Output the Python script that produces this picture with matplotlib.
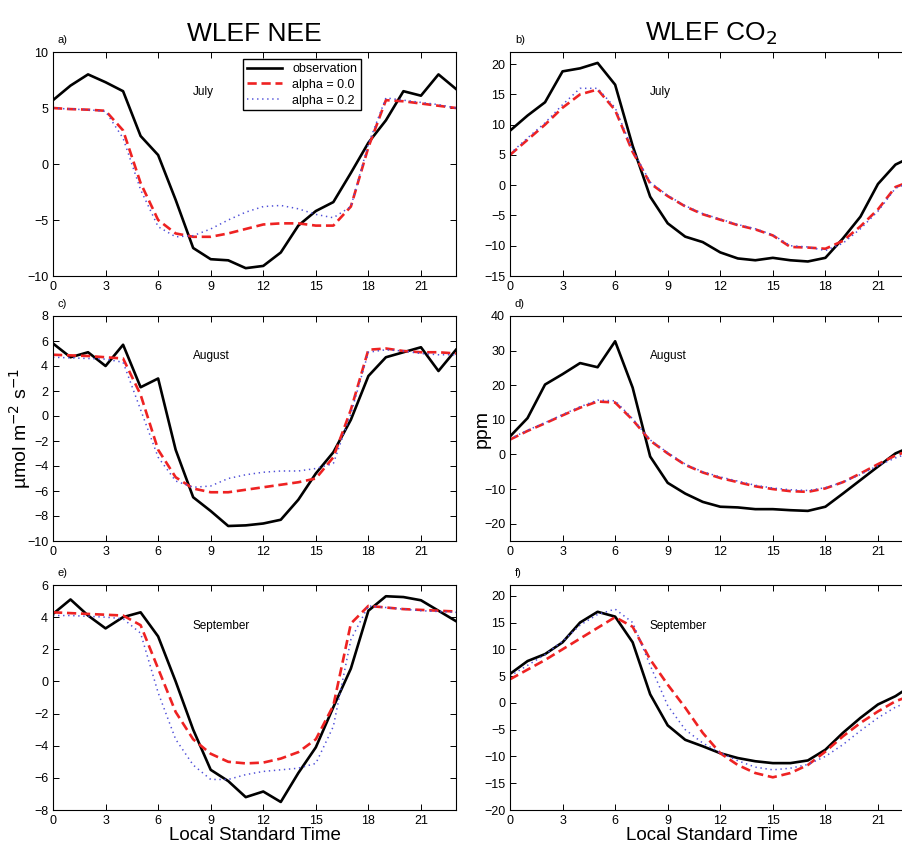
import matplotlib
matplotlib.use("Agg")
import matplotlib.pyplot as plt

plt.rcParams["font.family"] = ["Liberation Sans", "DejaVu Sans"]

hours = list(range(24))

# NEE (umol m-2 s-1)
jul_nee_obs = [5.7, 7.0, 8.0, 7.3, 6.5, 2.5, 0.8, -3.2, -7.5, -8.5, -8.6, -9.3,
               -9.1, -7.9, -5.5, -4.2, -3.4, -0.8, 1.9, 3.9, 6.5, 6.1, 8.0, 6.7]
jul_nee_a0 = [5.0, 4.9, 4.85, 4.75, 3.0, -1.7, -5.0, -6.2, -6.5, -6.5, -6.2, -5.8,
              -5.4, -5.3, -5.3, -5.5, -5.5, -3.8, 1.5, 5.7, 5.6, 5.4, 5.2, 5.0]
jul_nee_a2 = [5.0, 4.9, 4.85, 4.7, 2.3, -2.3, -5.6, -6.5, -6.4, -5.8, -5.0, -4.3,
              -3.8, -3.7, -4.0, -4.5, -4.8, -3.8, 1.8, 5.9, 5.7, 5.5, 5.3, 5.0]

aug_nee_obs = [5.8, 4.7, 5.1, 4.0, 5.7, 2.3, 3.0, -2.7, -6.5, -7.6, -8.8, -8.75,
               -8.6, -8.3, -6.7, -4.6, -2.9, -0.3, 3.2, 4.7, 5.1, 5.5, 3.6, 5.3]
aug_nee_a0 = [4.9, 4.85, 4.8, 4.7, 4.6, 1.7, -2.7, -4.9, -5.8, -6.1, -6.1, -5.9,
              -5.7, -5.5, -5.3, -5.0, -3.3, 0.5, 5.3, 5.4, 5.2, 5.1, 5.1, 5.0]
aug_nee_a2 = [4.7, 4.65, 4.6, 4.55, 4.3, 0.5, -3.3, -5.2, -5.7, -5.6, -5.0, -4.7,
              -4.5, -4.4, -4.4, -4.2, -3.8, 0.2, 5.1, 5.3, 5.2, 5.0, 4.9, 4.9]

sep_nee_obs = [4.2, 5.1, 4.1, 3.3, 4.0, 4.3, 2.8, 0.0, -3.0, -5.5, -6.2, -7.2,
               -6.85, -7.5, -5.7, -4.1, -1.6, 0.8, 4.4, 5.3, 5.25, 5.05, 4.4, 3.75]
sep_nee_a0 = [4.3, 4.25, 4.2, 4.15, 4.1, 3.5, 0.8, -1.9, -3.6, -4.5, -5.0, -5.1,
              -5.05, -4.8, -4.4, -3.6, -1.5, 3.6, 4.7, 4.6, 4.5, 4.45, 4.4, 4.35]
sep_nee_a2 = [4.1, 4.1, 4.05, 4.0, 3.9, 3.0, -0.7, -3.6, -5.2, -6.1, -6.1, -5.8,
              -5.6, -5.5, -5.4, -5.1, -2.8, 2.6, 4.7, 4.6, 4.5, 4.4, 4.35, 4.3]

# CO2 (ppm)
jul_co2_obs = [9.0, 11.5, 13.7, 18.8, 19.3, 20.2, 16.6, 6.5, -1.9, -6.3, -8.5, -9.4,
               -11.1, -12.1, -12.4, -12.0, -12.4, -12.6, -12.0, -8.8, -5.2, 0.2, 3.4, 4.8]
jul_co2_a0 = [5.0, 7.5, 10.0, 12.8, 15.0, 15.8, 12.4, 5.5, 0.3, -1.8, -3.5, -4.8,
              -5.7, -6.6, -7.3, -8.3, -10.2, -10.3, -10.5, -9.2, -6.8, -4.0, -0.3, 0.8]
jul_co2_a2 = [5.2, 7.8, 10.3, 13.3, 16.0, 16.0, 12.8, 5.8, 0.5, -1.7, -3.4, -4.7,
              -5.6, -6.5, -7.2, -8.2, -10.0, -10.2, -10.8, -9.6, -7.2, -4.3, -0.5, 0.6]

aug_co2_obs = [5.2, 10.5, 20.2, 23.2, 26.4, 25.2, 32.7, 19.3, -0.6, -8.2, -11.3, -13.7,
               -15.1, -15.3, -15.8, -15.8, -16.1, -16.3, -15.1, -11.3, -7.4, -3.5, 0.3, 2.5]
aug_co2_a0 = [4.3, 6.8, 9.0, 11.3, 13.5, 15.3, 15.0, 10.0, 4.0, 0.3, -3.0, -5.2,
              -6.8, -8.0, -9.2, -10.0, -10.6, -10.8, -9.8, -8.0, -5.5, -2.8, -0.3, 1.5]
aug_co2_a2 = [4.5, 7.0, 9.2, 11.5, 13.8, 15.7, 15.5, 10.3, 4.2, 0.5, -2.8, -5.0,
              -6.5, -7.7, -8.9, -9.7, -10.2, -10.4, -9.6, -8.0, -5.8, -3.2, -1.0, 0.8]

sep_co2_obs = [5.4, 7.8, 9.1, 11.3, 15.0, 17.0, 16.1, 11.3, 1.6, -4.2, -6.9, -8.1,
               -9.4, -10.3, -10.9, -11.25, -11.25, -10.75, -8.75, -5.6, -2.8, -0.3, 1.25, 3.4]
sep_co2_a0 = [4.4, 6.2, 8.0, 10.0, 12.0, 14.0, 16.0, 14.2, 8.1, 3.4, -0.9, -5.6,
              -9.4, -11.6, -13.1, -13.9, -13.1, -11.6, -9.1, -6.25, -3.75, -1.6, 0.3, 1.5]
sep_co2_a2 = [5.0, 7.0, 9.0, 11.5, 14.5, 16.5, 17.5, 15.0, 7.0, -0.5, -5.0, -7.5,
              -9.3, -10.8, -12.0, -12.5, -12.2, -11.5, -10.0, -7.8, -5.2, -2.8, -0.8, 0.5]

months = ["July", "August", "September"]
panel_tags = ["a)", "b)", "c)", "d)", "e)", "f)"]
nee_series = [(jul_nee_obs, jul_nee_a0, jul_nee_a2),
              (aug_nee_obs, aug_nee_a0, aug_nee_a2),
              (sep_nee_obs, sep_nee_a0, sep_nee_a2)]
co2_series = [(jul_co2_obs, jul_co2_a0, jul_co2_a2),
              (aug_co2_obs, aug_co2_a0, aug_co2_a2),
              (sep_co2_obs, sep_co2_a0, sep_co2_a2)]
nee_ylims = [(-10, 10, 5), (-10, 8, 2), (-8, 6, 2)]
co2_ylims = [(-15, 22, 5), (-25, 40, 10), (-20, 22, 5)]
legend_names = ["observation", "alpha = 0.0", "alpha = 0.2"]

W, H = 902, 846
fig = plt.figure(figsize=(W / 100, H / 100), dpi=100)

rows = [(52, 276), (316, 541), (585, 810)]
cols = [53, 510]
axw = 403


def make_ax(col, row):
    top, bot = rows[row]
    return fig.add_axes([cols[col] / W, 1 - bot / H, axw / W, (bot - top) / H])


def draw(ax, series, ylim, tag, month):
    obs, a0, a2 = series
    ax.plot(hours, obs, color="black", lw=1.9, label=legend_names[0])
    ax.plot(hours, a0, color="#ee2222", lw=1.9, ls="--", dashes=(3.5, 1.8), label=legend_names[1])
    ax.plot(hours, a2, color="#4f4fd8", lw=1.1, ls=":", dashes=(0.9, 2.4), label=legend_names[2])
    ax.set_xlim(0, 23)
    lo, hi, step = ylim
    ax.set_ylim(lo, hi)
    first = lo if lo % step == 0 else lo + (step - lo % step)
    ax.set_yticks(list(range(first, hi + 1, step)))
    ax.set_xticks(list(range(0, 22, 3)))
    ax.tick_params(direction="in", top=True, right=True, labelsize=9, length=4, width=0.7)
    for s in ax.spines.values():
        s.set_linewidth(0.8)
    ax.text(0.012, 1.055, tag, transform=ax.transAxes, fontsize=8, va="center")
    ax.text(0.347, 0.82, month, transform=ax.transAxes, fontsize=8.5, va="center")


for i in range(3):
    axl = make_ax(0, i)
    draw(axl, nee_series[i], nee_ylims[i], panel_tags[2 * i], months[i])
    axr = make_ax(1, i)
    draw(axr, co2_series[i], co2_ylims[i], panel_tags[2 * i + 1], months[i])
    if i == 0:
        axl.set_title("WLEF NEE", fontsize=19, pad=8)
        axr.set_title("WLEF CO$_2$", fontsize=19, pad=8)
        axl.legend(loc="upper left", bbox_to_anchor=(0.457, 0.995), fontsize=9,
                   frameon=True, fancybox=False, edgecolor="black", framealpha=1,
                   handlelength=2.8, borderpad=0.3, labelspacing=0.3)
    if i == 1:
        axl.set_ylabel("µmol m$^{-2}$ s$^{-1}$", fontsize=14)
        axl.yaxis.set_label_coords(-0.05, 0.5)
        axr.set_ylabel("ppm", fontsize=14)
        axr.yaxis.set_label_coords(-0.047, 0.5)
    if i == 2:
        axl.set_xlabel("Local Standard Time", fontsize=13.5, labelpad=0)
        axr.set_xlabel("Local Standard Time", fontsize=13.5, labelpad=0)

fig.savefig("out.png", dpi=100)
